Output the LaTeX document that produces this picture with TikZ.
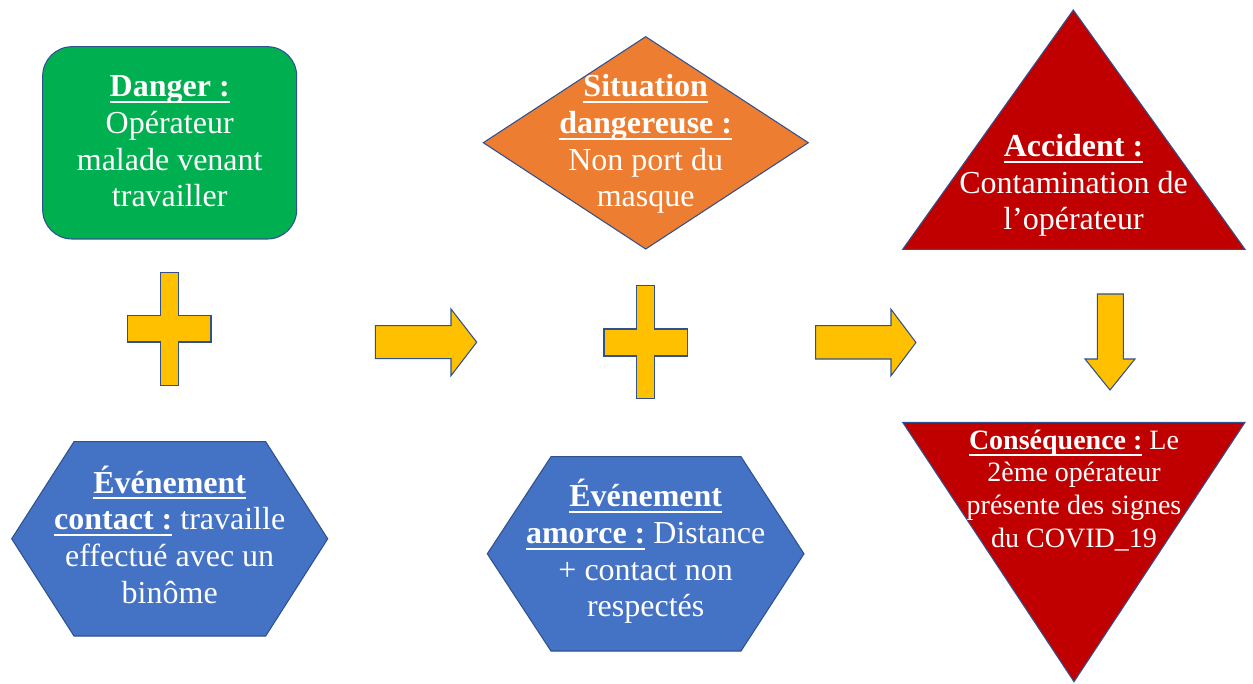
\documentclass[tikz,border=0pt]{standalone}
\usepackage{fontspec}
\setmainfont{Liberation Serif}
\usetikzlibrary{positioning}
\definecolor{vert}{HTML}{00B050}
\definecolor{orange}{HTML}{ED7D31}
\definecolor{bleu}{HTML}{4472C4}
\definecolor{rouge}{HTML}{C00000}
\definecolor{jaune}{HTML}{FFC000}
\definecolor{contour}{HTML}{2F528F}
\newsavebox\boitesoul
\newcommand\souligne[1]{\sbox\boitesoul{\textbf{#1}}\rlap{\rule[-4.6pt]{\wd\boitesoul}{1.5pt}}\usebox\boitesoul}

\begin{document}
\begin{tikzpicture}
                [x=0.75pt, y=-0.75pt,
                forme/.style={draw=contour, line width=0.8pt, line join=miter},
                bloc/.style={forme, fill=jaune},
                texte/.style={text=white, align=center, inner sep=0pt, anchor=base,
                    font=\fontsize{24}{27.5}\selectfont},
                petit/.style={texte, font=\fontsize{21}{24.4}\selectfont}]
                \useasboundingbox (0,0) rectangle (1253,684);
                % formes
                \draw[forme, fill=vert, rounded corners=22pt] (42.7,46.7) rectangle (296.7,239);
                \draw[forme, fill=orange] (645.7,36.7) -- (808.3,142.7) -- (645.7,249) -- (483.3,142.7) -- cycle;
                \draw[forme, fill=rouge] (1073.3,10) -- (1245,249.3) -- (902.7,249.3) -- cycle;
                \draw[forme, fill=bleu] (74,441.7) -- (265.7,441.7) -- (327.7,538.8) -- (265.7,636) -- (74,636) -- (11.7,538.8) -- cycle;
                \draw[forme, fill=bleu] (551,456.7) -- (741,456.7) -- (804,553.8) -- (741,651) -- (551,651) -- (487.3,553.8) -- cycle;
                \draw[forme, fill=rouge] (902.7,422.3) -- (1245,422.3) -- (1074,681.7) -- cycle;
                % plus et flèches
                \draw[bloc] (160.7,272.7) -- (178.7,272.7) -- (178.7,315.7) -- (211,315.7) -- (211,342) -- (178.7,342) -- (178.7,385.7)
                    -- (160.7,385.7) -- (160.7,342) -- (127.7,342) -- (127.7,315.7) -- (160.7,315.7) -- cycle;
                \draw[bloc] (636.7,285.7) -- (654.3,285.7) -- (654.3,329) -- (687.3,329) -- (687.3,356) -- (654.3,356) -- (654.3,398.3)
                    -- (636.7,398.3) -- (636.7,356) -- (604,356) -- (604,329) -- (636.7,329) -- cycle;
                \draw[bloc] (375.3,325.7) -- (451,325.7) -- (451,309) -- (476.7,342.2) -- (451,375.7) -- (451,358.7) -- (375.3,358.7) -- cycle;
                \draw[bloc] (815.7,325.7) -- (891,325.7) -- (891,309.3) -- (916,342.5) -- (891,375.7) -- (891,359) -- (815.7,359) -- cycle;
                \draw[bloc] (1097.3,294) -- (1123.3,294) -- (1123.3,359) -- (1135,359) -- (1110,390) -- (1085,359) -- (1097.3,359) -- cycle;
                % textes (ancrés sur la dernière ligne)
                \node[texte] (danger) at (169.7,207) {\souligne{Danger :}\\Opérateur\\malade venant\\travailler};
                \node[texte] (situation) at (645.7,207) {\souligne{Situation}\\\souligne{dangereuse :}\\Non port du\\masque};
                \node[texte] (accident) at (1073.5,230) {\souligne{Accident :}\\Contamination de\\l’opérateur};
                \node[texte] (contact) at (169.7,603.3) {\souligne{Événement}\\\souligne{contact :} travaille\\effectué avec un\\binôme};
                \node[texte] (amorce) at (645.7,616.7) {\souligne{Événement}\\\souligne{amorce :} Distance\\+ contact non\\respectés};
                \node[petit] (consequence) at (1074,547) {\souligne{Conséquence :} Le\\2ème opérateur\\présente des signes\\du COVID\_19};
            \end{tikzpicture}
\end{document}
